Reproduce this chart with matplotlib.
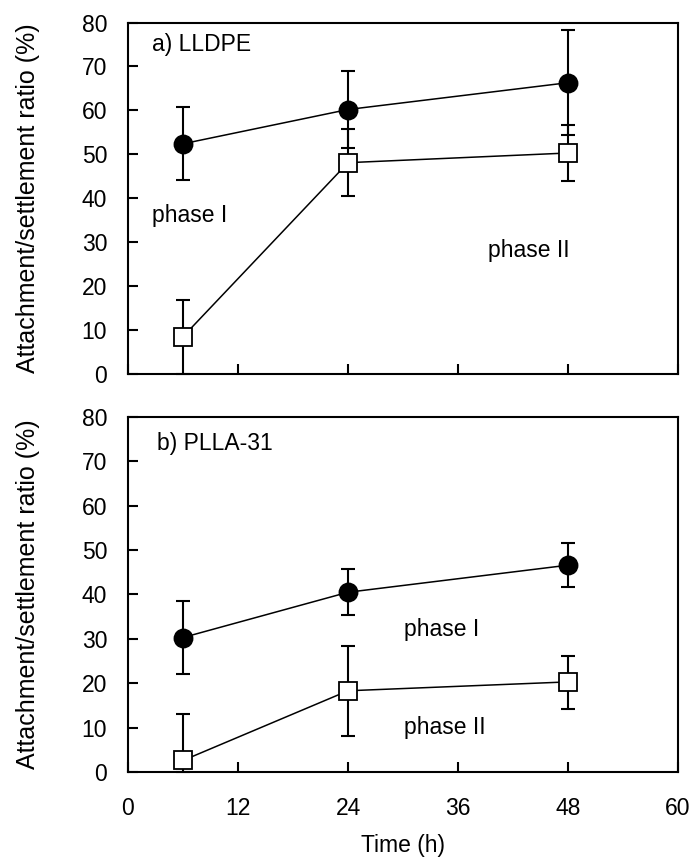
import numpy as np
import matplotlib
matplotlib.use('Agg')
import matplotlib.pyplot as plt

plt.rcParams['font.family'] = ['Liberation Sans', 'DejaVu Sans']

# time points (h)
time_h = [6, 24, 48]

# a) LLDPE
lldpe_phase1 = [52.4, 60.2, 66.3]
lldpe_phase1_err = [8.3, 8.8, 12.0]
lldpe_phase2 = [8.5, 48.1, 50.3]
lldpe_phase2_err = [8.4, 7.7, 6.3]

# b) PLLA-31
plla_phase1 = [30.3, 40.5, 46.6]
plla_phase1_err = [8.3, 5.2, 4.9]
plla_phase2 = [2.6, 18.3, 20.3]
plla_phase2_err_low = [2.6, 10.2, 6.2]
plla_phase2_err_high = [10.5, 10.0, 5.9]

x_ticks = [0, 12, 24, 36, 48, 60]
y_ticks = [0, 10, 20, 30, 40, 50, 60, 70, 80]

FS = 16.5      # tick labels and annotations
FS_LABEL = 18  # axis titles


def style_axes(ax, show_xlabels):
    ax.set_xlim(0, 60)
    ax.set_ylim(0, 80)
    ax.set_xticks(x_ticks)
    ax.set_yticks(y_ticks)
    ax.tick_params(direction='in', length=7, width=1.5, labelsize=FS)
    ax.tick_params(axis='y', pad=15)
    ax.tick_params(axis='x', pad=18)
    if not show_xlabels:
        ax.tick_params(axis='x', labelbottom=False)
    for s in ax.spines.values():
        s.set_linewidth(1.5)
    ax.set_ylabel('Attachment/settlement ratio (%)', fontsize=FS_LABEL, labelpad=30)


def draw_series(ax, y, err, marker, face):
    ax.errorbar(time_h, y, yerr=err, fmt='-', color='black', lw=1.1,
                elinewidth=1.5, capsize=5, capthick=1.5, zorder=2, clip_on=False)
    ax.plot(time_h, y, linestyle='none', marker=marker, markersize=13,
            markerfacecolor=face, markeredgecolor='black', markeredgewidth=1.3,
            zorder=3, clip_on=False)


fig = plt.figure(figsize=(6.93, 8.59), dpi=100)
ax1 = fig.add_axes([0.1847, 0.5646, 0.7937, 0.4092])
ax2 = fig.add_axes([0.1847, 0.1013, 0.7937, 0.4133])

draw_series(ax1, lldpe_phase1, lldpe_phase1_err, 'o', 'black')
draw_series(ax1, lldpe_phase2, lldpe_phase2_err, 's', 'white')
style_axes(ax1, False)
ax1.text(2.66, 75, 'a) LLDPE', fontsize=FS, ha='left', va='center')
ax1.text(2.66, 36, 'phase I', fontsize=FS, ha='left', va='center')
ax1.text(39.3, 28, 'phase II', fontsize=FS, ha='left', va='center')

draw_series(ax2, plla_phase1, plla_phase1_err, 'o', 'black')
draw_series(ax2, plla_phase2, [plla_phase2_err_low, plla_phase2_err_high], 's', 'white')
style_axes(ax2, True)
ax2.set_xlabel('Time (h)', fontsize=FS, labelpad=10)
ax2.text(3.2, 74, 'b) PLLA-31', fontsize=FS, ha='left', va='center')
ax2.text(30.1, 32, 'phase I', fontsize=FS, ha='left', va='center')
ax2.text(30.1, 10, 'phase II', fontsize=FS, ha='left', va='center')

fig.savefig('out.png', dpi=100)
